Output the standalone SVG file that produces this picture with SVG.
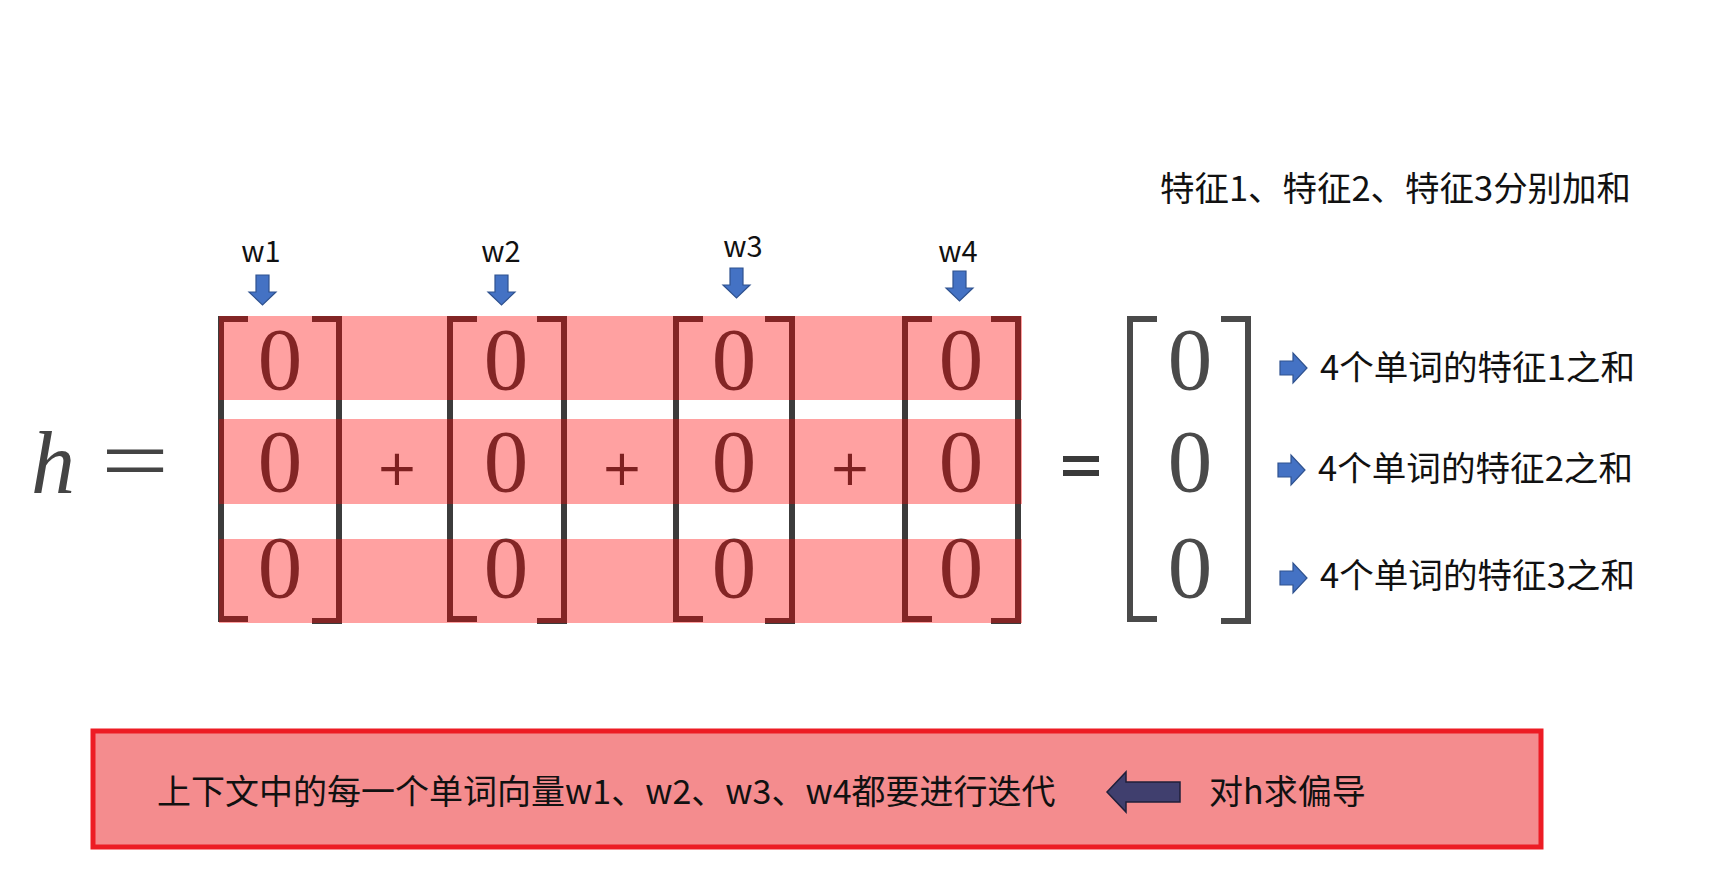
<svg xmlns="http://www.w3.org/2000/svg" xmlns:xlink="http://www.w3.org/1999/xlink" width="1715" height="880" viewBox="0 0 1715 880">
<style>
.cjk{font-family:"Noto Sans CJK SC","Noto Sans",sans-serif;fill:#111;}
.zero{font-family:"Liberation Serif",serif;font-size:89px;text-anchor:middle;fill:#3c3c3c;}
.rzero{font-family:"Liberation Serif",serif;font-size:89px;text-anchor:middle;fill:#4a4a4a;}
.br{fill:none;stroke:#3c3c3c;stroke-width:6;}
.rbr{fill:none;stroke:#4a4a4a;stroke-width:6;}
.blue{fill:#4472C4;stroke:#2F528F;stroke-width:1.2;}
.band{fill:#FF0000;fill-opacity:0.37;}
.wl{font-family:"Noto Sans CJK SC","Noto Sans",sans-serif;font-size:29px;text-anchor:middle;fill:#111;}
</style>
<defs>
<path id="lb" d="M30,3 H3 V303 H30"/>
<path id="rb" d="M0,3 H27 V305 H0"/>
<path id="darr" d="M7,0 H20 V17 H27 L13.5,30 L0,17 H7 Z"/>
<path id="rarr" d="M0,8 H13 V0 L27,15 L13,30 V22 H0 Z"/>
</defs>
<rect width="1715" height="880" fill="#ffffff"/>

<g id="equation-lhs">
<text x="31" y="493" font-family="Liberation Serif, serif" font-style="italic" font-size="88" fill="#444">h</text>
<text x="101" y="490" font-family="Liberation Serif, serif" font-size="88" fill="#444" textLength="68" lengthAdjust="spacingAndGlyphs">=</text>
</g>

<g id="matrix-w1">
<use xlink:href="#lb" x="218" y="316" class="br"/>
<use xlink:href="#rb" x="312" y="316" class="br"/>
<text class="zero" x="280" y="389">0</text>
<text class="zero" x="280" y="491">0</text>
<text class="zero" x="280" y="597">0</text>
</g>
<g id="matrix-w2">
<use xlink:href="#lb" x="447" y="316" class="br"/>
<use xlink:href="#rb" x="537" y="316" class="br"/>
<text class="zero" x="506" y="389">0</text>
<text class="zero" x="506" y="491">0</text>
<text class="zero" x="506" y="597">0</text>
</g>
<g id="matrix-w3">
<use xlink:href="#lb" x="673" y="316" class="br"/>
<use xlink:href="#rb" x="765" y="316" class="br"/>
<text class="zero" x="734" y="389">0</text>
<text class="zero" x="734" y="491">0</text>
<text class="zero" x="734" y="597">0</text>
</g>
<g id="matrix-w4">
<use xlink:href="#lb" x="902" y="316" class="br"/>
<use xlink:href="#rb" x="991" y="316" class="br"/>
<text class="zero" x="961" y="389">0</text>
<text class="zero" x="961" y="491">0</text>
<text class="zero" x="961" y="597">0</text>
</g>
<g id="plus-signs" font-family="DejaVu Sans, sans-serif" font-size="50" fill="#333" text-anchor="middle">
<text x="397" y="485">+</text>
<text x="622" y="485">+</text>
<text x="850" y="485">+</text>
</g>

<g id="highlight-bands">
<rect class="band" x="219" y="316" width="803" height="84"/>
<rect class="band" x="219" y="419" width="803" height="85"/>
<rect class="band" x="219" y="539" width="803" height="84"/>
</g>

<g id="equals">
<rect x="1063" y="456" width="36" height="6" fill="#3a3a3a"/>
<rect x="1063" y="470" width="36" height="6" fill="#3a3a3a"/>
</g>

<g id="matrix-result">
<use xlink:href="#lb" x="1127" y="316" class="rbr"/>
<use xlink:href="#rb" x="1221" y="316" class="rbr"/>
<text class="rzero" x="1190" y="389">0</text>
<text class="rzero" x="1190" y="491">0</text>
<text class="rzero" x="1190" y="597">0</text>
</g>

<g id="word-labels">
<text class="wl" x="261" y="262">w1</text>
<text class="wl" x="501" y="262">w2</text>
<text class="wl" x="743" y="257">w3</text>
<text class="wl" x="958" y="262">w4</text>
</g>

<g id="title-note">
<text class="cjk" x="1160" y="201" font-size="34" textLength="471" lengthAdjust="spacingAndGlyphs">特征1、特征2、特征3分别加和</text>
</g>

<g id="row-labels">
<text class="cjk" x="1320" y="380" font-size="34" textLength="315" lengthAdjust="spacingAndGlyphs">4个单词的特征1之和</text>
<text class="cjk" x="1318" y="481" font-size="34" textLength="315" lengthAdjust="spacingAndGlyphs">4个单词的特征2之和</text>
<text class="cjk" x="1320" y="588" font-size="34" textLength="315" lengthAdjust="spacingAndGlyphs">4个单词的特征3之和</text>
</g>

<g id="bottom-box">
<rect x="93" y="731" width="1448" height="116" fill="#F48C8E" stroke="#ED1C24" stroke-width="5"/>
<text class="cjk" x="157" y="804" font-size="34">上下文中的每一个单词向量w1、w2、w3、w4都要进行迭代</text>
<text class="cjk" x="1209" y="804" font-size="34">对h求偏导</text>
</g>

<g id="connectors">
<use xlink:href="#darr" x="249" y="275" class="blue"/>
<use xlink:href="#darr" x="488" y="275" class="blue"/>
<use xlink:href="#darr" x="723" y="268" class="blue"/>
<use xlink:href="#darr" x="946" y="271" class="blue"/>
<use xlink:href="#rarr" x="1280" y="353" class="blue"/>
<use xlink:href="#rarr" x="1278" y="455" class="blue"/>
<use xlink:href="#rarr" x="1280" y="563" class="blue"/>
<path d="M1107,792 L1126,772 V782 H1180 V802 H1126 V812 Z" fill="#403F6E" stroke="#1F1F3A" stroke-width="1.5"/>
</g>
</svg>
